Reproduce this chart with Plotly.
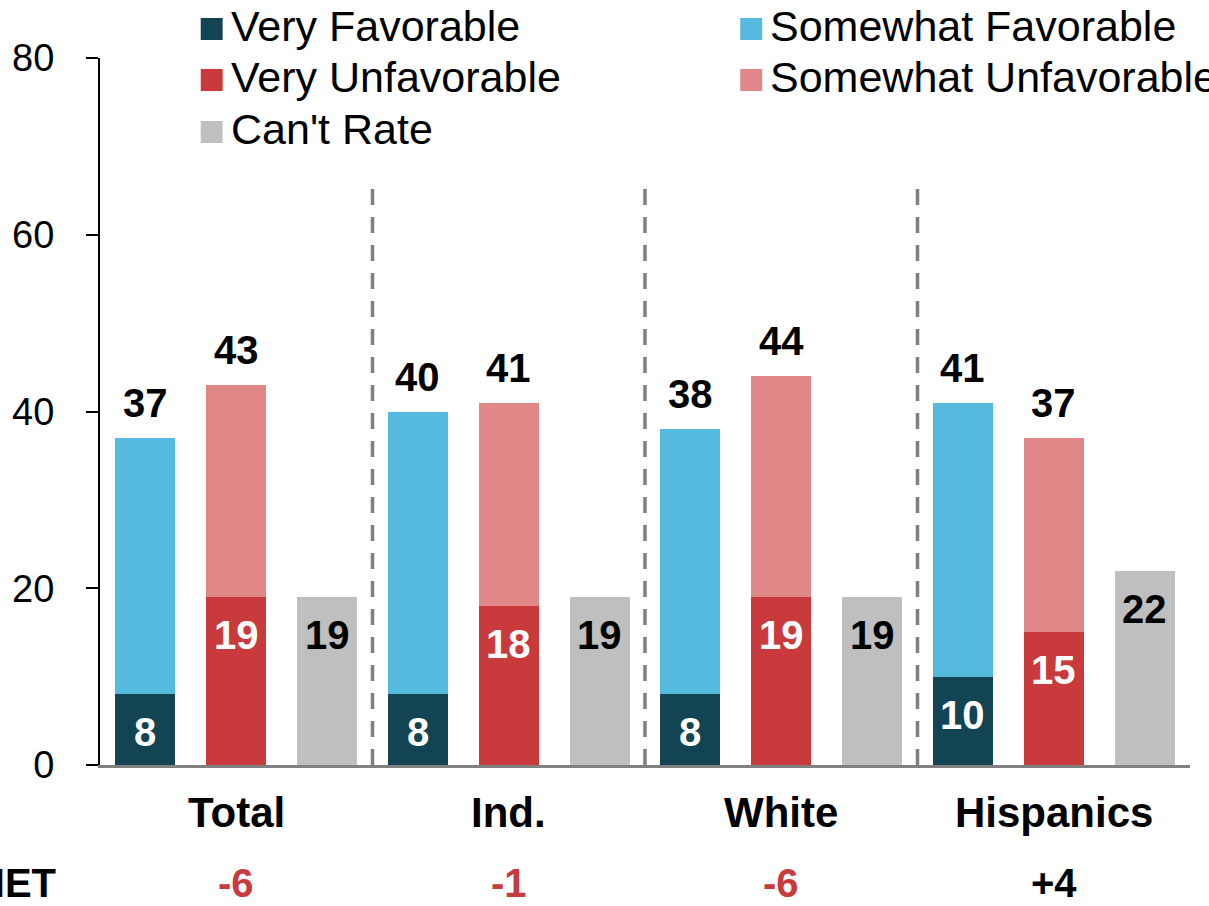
import plotly.graph_objects as go

groups = ["Total", "Ind.", "White", "Hispanics"]
very_fav = [8, 8, 8, 10]
somewhat_fav = [29, 32, 30, 31]
very_unfav = [19, 18, 19, 15]
somewhat_unfav = [24, 23, 25, 22]
cant_rate = [19, 19, 19, 22]
net_labels = ["-6", "-1", "-6", "+4"]

legend_names = ["Very Favorable", "Somewhat Favorable", "Very Unfavorable",
                "Somewhat Unfavorable", "Can't Rate"]
C_VF = "#134453"
C_SF = "#55BADD"
C_VU = "#C83A3B"
C_SU = "#E08888"
C_CR = "#BFBFBF"
legend_colors = [C_VF, C_SF, C_VU, C_SU, C_CR]

FONT = "Liberation Sans, Arial, sans-serif"
W, H = 1209, 906
L, R, T, B = 97, 19, 58, 141
PW, PH = W - L - R, H - T - B

def px_x(px):
    return (px - L) / PW

def px_y(py):
    return (H - B - py) / PH

n = len(groups)
x_fav = [3 * i for i in range(n)]
x_unf = [3 * i + 1 for i in range(n)]
x_cr = [3 * i + 2 for i in range(n)]
bw = 0.66

fig = go.Figure()
fig.add_trace(go.Bar(x=x_fav, y=very_fav, marker_color=C_VF, width=bw, name=legend_names[0]))
fig.add_trace(go.Bar(x=x_fav, y=somewhat_fav, marker_color=C_SF, width=bw, name=legend_names[1]))
fig.add_trace(go.Bar(x=x_unf, y=very_unfav, marker_color=C_VU, width=bw, name=legend_names[2]))
fig.add_trace(go.Bar(x=x_unf, y=somewhat_unfav, marker_color=C_SU, width=bw, name=legend_names[3]))
fig.add_trace(go.Bar(x=x_cr, y=cant_rate, marker_color=C_CR, width=bw, name=legend_names[4]))
fig.update_traces(marker_line_width=0, showlegend=False, hoverinfo="skip")

ann = []
lab_font = dict(family=FONT, size=40, color="black")
for i in range(n):
    fav_tot = very_fav[i] + somewhat_fav[i]
    unf_tot = very_unfav[i] + somewhat_unfav[i]
    # inside labels
    ann.append(dict(x=x_fav[i], y=very_fav[i], text=f"<b>{very_fav[i]}</b>", showarrow=False,
                    yanchor="middle", yshift=-38, font=dict(family=FONT, size=40, color="white")))
    ann.append(dict(x=x_unf[i], y=very_unfav[i], text=f"<b>{very_unfav[i]}</b>", showarrow=False,
                    yanchor="middle", yshift=-38, font=dict(family=FONT, size=40, color="white")))
    ann.append(dict(x=x_cr[i], y=cant_rate[i], text=f"<b>{cant_rate[i]}</b>", showarrow=False,
                    yanchor="middle", yshift=-38, font=lab_font))
    # totals
    ann.append(dict(x=x_fav[i], y=fav_tot, text=f"<b>{fav_tot}</b>", showarrow=False,
                    yanchor="middle", yshift=35, font=lab_font))
    ann.append(dict(x=x_unf[i], y=unf_tot, text=f"<b>{unf_tot}</b>", showarrow=False,
                    yanchor="middle", yshift=35, font=lab_font))
    # group labels
    ann.append(dict(x=x_unf[i], y=px_y(813), yref="paper", text=f"<b>{groups[i]}</b>",
                    showarrow=False, yanchor="middle", font=dict(family=FONT, size=42, color="black")))
    net_col = C_VU if net_labels[i].startswith("-") else "black"
    ann.append(dict(x=x_unf[i], y=px_y(883), yref="paper", text=f"<b>{net_labels[i]}</b>",
                    showarrow=False, yanchor="middle", font=dict(family=FONT, size=40, color=net_col)))

ann.append(dict(x=px_x(55), y=px_y(883), xref="paper", yref="paper", text="<b>NET</b>",
                showarrow=False, xanchor="right", yanchor="middle",
                font=dict(family=FONT, size=40, color="black")))

# legend (manual, two columns)
shapes = []
col_sq = [198, 739]
col_tx = [226, 767]
row_y = [29, 80, 132]
for k, (name, col) in enumerate(zip(legend_names, legend_colors)):
    r, c = divmod(k, 2)
    cy = row_y[r]
    shapes.append(dict(type="rect", xref="paper", yref="paper",
                       x0=px_x(col_sq[c]), x1=px_x(col_sq[c] + 22),
                       y0=px_y(cy + 11), y1=px_y(cy - 11),
                       fillcolor=col, line=dict(width=0)))
    ann.append(dict(x=px_x(col_tx[c]), y=px_y(cy - 3), xref="paper", yref="paper", text=name,
                    showarrow=False, xanchor="left", yanchor="middle",
                    font=dict(family=FONT, size=43, color="black")))

# dashed separators
for i in range(n - 1):
    xs = x_cr[i] + 0.5
    shapes.append(dict(type="line", xref="x", yref="y", x0=xs, x1=xs, y0=0, y1=65.7,
                       line=dict(color="#808080", width=3.5, dash="16px,12px")))

fig.update_layout(
    barmode="stack",
    width=W, height=H,
    margin=dict(l=L, r=R, t=T, b=B),
    plot_bgcolor="white", paper_bgcolor="white",
    annotations=ann, shapes=shapes,
    font=dict(family=FONT, color="black"),
    xaxis=dict(range=[-0.5, 3 * n - 0.5], showticklabels=False, ticks="", showgrid=False,
               zeroline=False, showline=True, linecolor="#808080", linewidth=2.5, fixedrange=True),
    yaxis=dict(range=[0, 80], tickvals=[0, 20, 40, 60, 80], ticks="outside", ticklen=12,
               tickwidth=2, tickcolor="black", showgrid=False, zeroline=False, showline=True,
               linecolor="black", linewidth=2, tickfont=dict(family=FONT, size=38, color="black"),
               ticklabelstandoff=24, fixedrange=True),
    showlegend=False,
)

fig.write_html("out.html", config={"displayModeBar": False},
               post_script="document.body.style.margin='0px';")
